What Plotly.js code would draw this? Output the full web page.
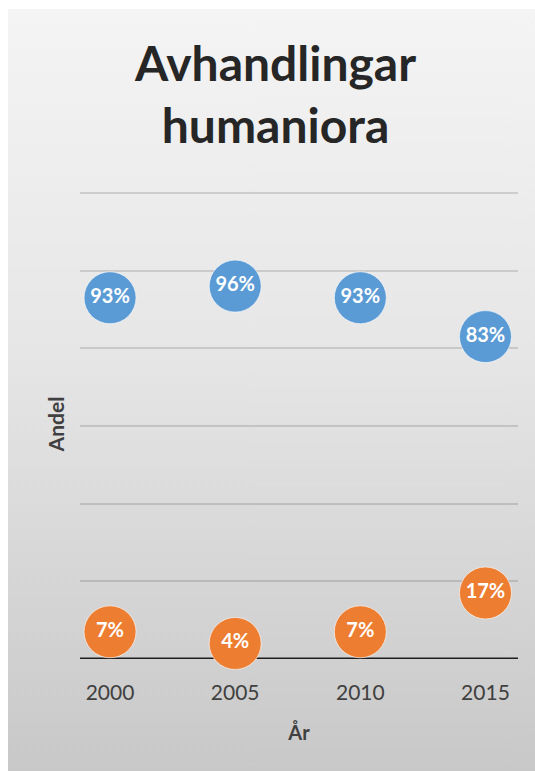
<!DOCTYPE html>
<html>
<head>
<meta charset="utf-8">
<script src="https://cdn.plot.ly/plotly-3.0.1.min.js"></script>
<style>
html,body{margin:0;padding:0;background:#ffffff;}
#wrap{position:absolute;left:0;top:0;width:535px;height:771px;}
#bg{position:absolute;left:8px;top:9px;width:527px;height:762px;background:linear-gradient(to bottom,#f4f4f4 0%,#e6e6e6 45%,#c8c8c8 100%);}
#chart{position:absolute;left:0;top:0;width:535px;height:771px;}
</style>
</head>
<body>
<div id="wrap"><div id="bg"></div><div id="chart"></div></div>
<script>
const years = ['2000', '2005', '2010', '2015'];
const blueShare = [0.93, 0.96, 0.93, 0.83];
const orangeShare = [0.07, 0.04, 0.07, 0.17];
const yGrid = [0, 0.2, 0.4, 0.6, 0.8, 1.0, 1.2];

const fam = 'Lato, "Open Sans", sans-serif';
const labelFont = {family: fam, size: 20, color: '#ffffff', weight: 'bold'};

const traces = [
  {
    x: years, y: blueShare, type: 'scatter', mode: 'markers+text',
    marker: {size: 52, color: '#5b9bd5', line: {width: 1, color: 'rgba(255,255,255,0.6)'}},
    texttemplate: '<b>%{y:.0%}</b>', textposition: 'middle center',
    textfont: labelFont, hoverinfo: 'skip', cliponaxis: false, showlegend: false
  },
  {
    x: years, y: orangeShare, type: 'scatter', mode: 'markers+text',
    marker: {size: 52, color: '#ed7d31', line: {width: 1, color: 'rgba(255,255,255,0.6)'}},
    texttemplate: '<b>%{y:.0%}</b>', textposition: 'middle center',
    textfont: labelFont, hoverinfo: 'skip', cliponaxis: false, showlegend: false
  }
];

const layout = {
  width: 535, height: 771,
  margin: {l: 80, r: 17, t: 189, b: 112},
  paper_bgcolor: 'rgba(0,0,0,0)', plot_bgcolor: 'rgba(0,0,0,0)',
  font: {family: fam, color: '#404040'},
  title: {
    text: '<b>Avhandlingar<br>humaniora</b>',
    font: {family: fam, size: 48, color: '#262626'},
    x: 0.515, xref: 'container', xanchor: 'center',
    y: 0.895, yref: 'container', yanchor: 'top'
  },
  xaxis: {
    type: 'category', categoryarray: years, range: [-0.24, 3.26],
    showgrid: false, zeroline: false, showline: false,
    ticks: '', tickfont: {size: 21, color: '#404040'}, ticklabelstandoff: 19,
    title: {text: '<b>År</b>', font: {size: 20, color: '#404040'}, standoff: 22},
    fixedrange: true
  },
  yaxis: {
    range: [0, 1.21], tickvals: yGrid, showticklabels: false,
    showgrid: true, gridcolor: 'rgba(0,0,0,0.13)', gridwidth: 2,
    zeroline: false, showline: false, ticks: '',
    title: {text: '<b>Andel</b>', font: {size: 21, color: '#404040'}, standoff: 8},
    fixedrange: true
  },
  shapes: [
    {type: 'line', xref: 'paper', yref: 'y', x0: 0, x1: 1, y0: 0, y1: 0,
     line: {color: '#1e1e1e', width: 3}, layer: 'below'}
  ]
};

Plotly.newPlot('chart', traces, layout, {displayModeBar: false, staticPlot: true});
</script>
</body>
</html>
